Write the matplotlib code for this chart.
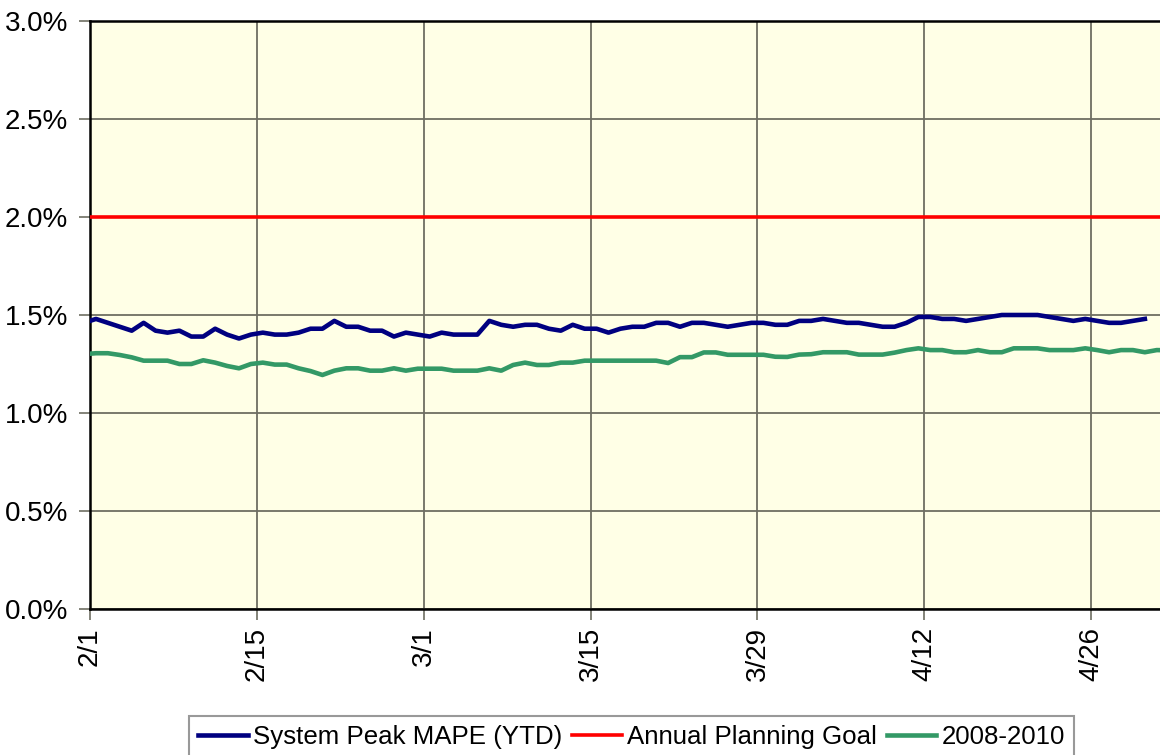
import numpy as np
import pandas as pd
import matplotlib
matplotlib.use("Agg")
import matplotlib.pyplot as plt
import matplotlib.dates as mdates
from matplotlib.ticker import FuncFormatter, MultipleLocator

plt.rcParams['font.family'] = ['Liberation Sans', 'DejaVu Sans']

# daily values are stamped at noon, starting 1/31
mape_ytd = [1.46,
            1.48, 1.46, 1.44, 1.42, 1.46, 1.42, 1.41, 1.42, 1.39, 1.39,
            1.43, 1.40, 1.38, 1.40, 1.41, 1.40, 1.40, 1.41, 1.43, 1.43,
            1.47, 1.44, 1.44, 1.42, 1.42, 1.39, 1.41, 1.40, 1.39, 1.41,
            1.40, 1.40, 1.40, 1.47, 1.45, 1.44, 1.45, 1.45, 1.43, 1.42,
            1.45, 1.43, 1.43, 1.41, 1.43, 1.44, 1.44, 1.46, 1.46, 1.44,
            1.46, 1.46, 1.45, 1.44, 1.45, 1.46, 1.46, 1.45, 1.45, 1.47,
            1.47, 1.48, 1.47, 1.46, 1.46, 1.45, 1.44, 1.44, 1.46, 1.49,
            1.49, 1.48, 1.48, 1.47, 1.48, 1.49, 1.50, 1.50, 1.50, 1.50,
            1.49, 1.48, 1.47, 1.48, 1.47, 1.46, 1.46, 1.47, 1.48]

hist_0810 = [1.30,
             1.305, 1.305, 1.296, 1.284, 1.267, 1.267, 1.267, 1.25, 1.25, 1.269,
             1.257, 1.24, 1.228, 1.25, 1.257, 1.247, 1.247, 1.228, 1.214, 1.194,
             1.216, 1.228, 1.228, 1.216, 1.216, 1.228, 1.216, 1.226, 1.226, 1.226,
             1.216, 1.216, 1.216, 1.228, 1.216, 1.245, 1.257, 1.245, 1.245, 1.257,
             1.257, 1.267, 1.267, 1.267, 1.267, 1.267, 1.267, 1.267, 1.255, 1.285,
             1.285, 1.309, 1.309, 1.297, 1.297, 1.297, 1.297, 1.287, 1.286, 1.298,
             1.30, 1.31, 1.31, 1.31, 1.298, 1.298, 1.298, 1.308, 1.321, 1.33,
             1.321, 1.321, 1.31, 1.31, 1.321, 1.31, 1.31, 1.33, 1.33, 1.33,
             1.321, 1.321, 1.321, 1.33, 1.321, 1.31, 1.321, 1.321, 1.31, 1.321,
             1.32]

planning_goal = 2.0

tick_dates = ['2011-02-01', '2011-02-15', '2011-03-01', '2011-03-15',
              '2011-03-29', '2011-04-12', '2011-04-26']
tick_labels = ['2/1', '2/15', '3/1', '3/15', '3/29', '4/12', '4/26']

mape_days = pd.date_range('2011-01-31 12:00', periods=len(mape_ytd), freq='D')
hist_days = pd.date_range('2011-01-31 12:00', periods=len(hist_0810), freq='D')

fig = plt.figure(figsize=(11.6, 7.55), dpi=100)
ax = fig.add_axes([90 / 1160, 1 - 609 / 755, 1070 / 1160, 588 / 755])
ax.set_facecolor('#FFFFE6')

x0 = mdates.date2num(pd.Timestamp('2011-02-01'))
x1 = x0 + 89.77

ax.plot(mape_days, mape_ytd, color='#000080', lw=3.3, solid_joinstyle='round',
        label='System Peak MAPE (YTD)', zorder=4)
ax.plot([x0, x1], [planning_goal, planning_goal], color='#FF0000', lw=2.6,
        label='Annual Planning Goal', zorder=3)
ax.plot(hist_days, hist_0810, color='#339966', lw=3.3, solid_joinstyle='round',
        label='2008-2010', zorder=3)

ax.set_xlim(x0, x1)
ax.set_ylim(0, 3.0)
ax.yaxis.set_major_locator(MultipleLocator(0.5))
ax.yaxis.set_major_formatter(FuncFormatter(lambda v, p: f'{v:.1f}%'))
ax.set_xticks(mdates.date2num(pd.to_datetime(tick_dates)))
ax.set_xticklabels(tick_labels, rotation=90)

ax.grid(True, color='#6E6E62', lw=1.3, zorder=1)
ax.set_axisbelow(True)
ax.tick_params(axis='both', labelsize=20, length=8, width=1.2, color='#6E6E62')
ax.tick_params(axis='x', pad=5)
ax.tick_params(axis='y', pad=8)

for s in ['left', 'bottom', 'top']:
    ax.spines[s].set_color('black')
    ax.spines[s].set_linewidth(1.8)
ax.spines['right'].set_visible(False)

leg = fig.legend(loc='upper center', bbox_to_anchor=(0.5444, 1 - 716 / 755), ncol=3,
                 fontsize=18.6, frameon=True, fancybox=False, edgecolor='#808080',
                 handlelength=1.93, handletextpad=0.19, columnspacing=0.38,
                 borderpad=0.35, borderaxespad=0)
leg.get_frame().set_linewidth(1.5)

fig.savefig('out.png', dpi=100)
